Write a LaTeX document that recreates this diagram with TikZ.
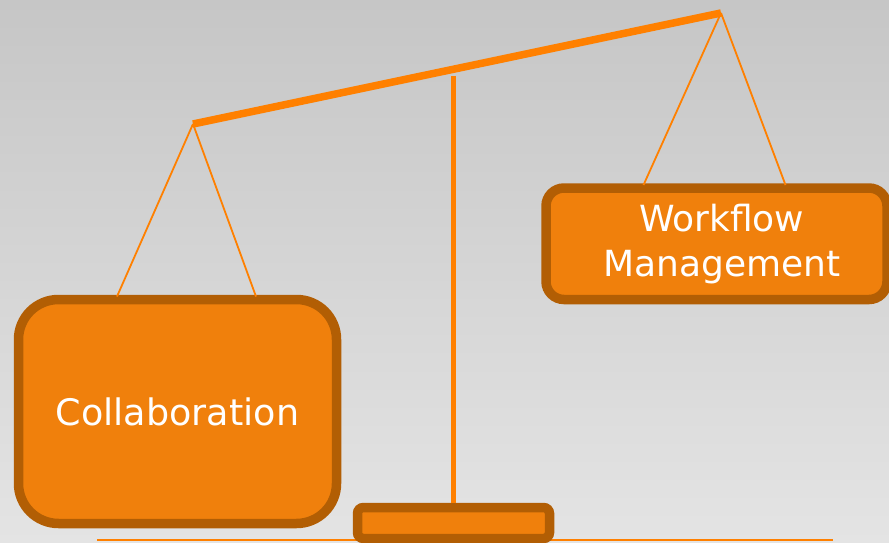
\documentclass[tikz,border=0pt]{standalone}
\usepackage{fontspec}
\setmainfont{DejaVu Sans}
\usetikzlibrary{calc}
\definecolor{bgtop}{HTML}{C6C6C6}
\definecolor{bgbot}{HTML}{E4E4E4}
\definecolor{boxfill}{HTML}{F0800C}
\definecolor{boxedge}{HTML}{B25E04}
\definecolor{rope}{HTML}{FF8000}
\begin{document}
\begin{tikzpicture}[x=1pt,y=-1pt,
  pan/.style={draw=boxedge, fill=boxfill, line width=9.5pt, text=white,
    align=center, inner sep=0pt, outer sep=0pt},
  string/.style={draw=rope, line width=1.8pt},
  beam/.style={draw=rope, line width=7.5pt},
  pole/.style={draw=rope, line width=5pt},
  ground/.style={draw=rope, line width=2pt}]
\useasboundingbox (0,0) rectangle (889,543);
\shade[top color=bgtop, bottom color=bgbot] (0,0) rectangle (889,543);
% coordinates
\coordinate (bl) at (193,124);
\coordinate (br) at (721,13);
\coordinate (ptop) at (453.5,76);
\coordinate (g1) at (97,540);
\coordinate (g2) at (833,540);
% ground
\draw[ground] (g1) -- (g2);
% base and pole
\node[pan, rounded corners=6pt, minimum width=192pt, minimum height=31pt] (base) at (453.5,523) {};
\draw[pole, shorten >=4.5pt] (ptop) -- (base.north);
% boxes
\node[pan, rounded corners=40pt, minimum width=318pt, minimum height=224pt,
  font=\fontsize{36.5}{45}\selectfont] (colbox) at (177.5,411.5) {Collaboration};
\node[pan, rounded corners=18pt, minimum width=341pt, minimum height=111.5pt,
  font=\fontsize{36}{45}\selectfont] (wfbox) at (716.5,243.75)
  {\raisebox{-4pt}{\hspace*{10.4pt}Workflow}\\\raisebox{-4pt}{\hspace*{10.4pt}Management}};
% strings
\draw[string] (bl) -- ($(colbox.north)+(-60.5,-3)$);
\draw[string] (bl) -- ($(colbox.north)+(78.5,-3)$);
\draw[string] (br) -- ($(wfbox.north)+(-73,-3)$);
\draw[string] (br) -- ($(wfbox.north)+(69,-3)$);
% beam
\draw[beam] (bl) -- (br);
\end{tikzpicture}
\end{document}
